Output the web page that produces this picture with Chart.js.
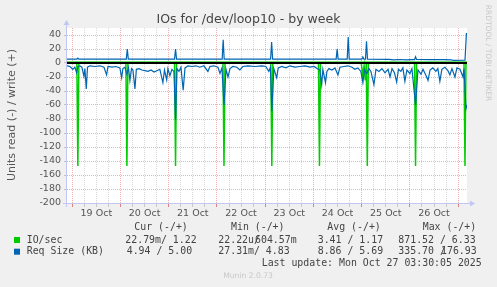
<!DOCTYPE html>
<html>
<head>
<meta charset="utf-8">
<title>IOs for /dev/loop10 - by week</title>
<script src="https://cdn.jsdelivr.net/npm/chart.js@4.4.1/dist/chart.umd.min.js"></script>
<style>
  html, body { margin: 0; padding: 0; background: #f0f0f0; }
  #wrap { width: 497px; height: 287px; }
</style>
</head>
<body>
<div id="wrap"><canvas id="myChart" width="497" height="287"></canvas></div>
<script>
// hours counted from 19 Oct 00:00, one graph pixel = 30 min
const dayLabels = ['19 Oct', '20 Oct', '21 Oct', '22 Oct', '23 Oct', '24 Oct', '25 Oct', '26 Oct'];
const yTicks = [-200, -180, -160, -140, -120, -100, -80, -60, -40, -20, 0, 20, 40];

// IO/sec, read (drawn negative)
const ioReadHours = [-2.6, 2.3, 2.8, 3.3, 26.7, 27.2, 27.7, 50.9, 51.4, 51.9, 75.0, 75.5, 76.0,
  98.8, 99.3, 99.8, 122.5, 123.0, 123.5, 143.8, 144.5, 145.2, 145.8, 146.3, 146.8, 147.3,
  170.3, 170.8, 171.3, 194.9, 195.4, 195.9, 196.4];
const ioReadVals = [0, 0, -147, 0, 0, -147, 0, 0, -147, 0, 0, -147, 0,
  0, -147, 0, 0, -147, 0, 0, -18, -4, -25, 0, -147, 0,
  0, -147, 0, 0, -147, 0, 0];

// IO/sec, write
const ioWriteHours = [-2.6, 60, 120, 196.4];
const ioWriteVals = [1.6, 1.6, 1.5, 1.6];

// Req Size (KB), read (drawn negative)
const sizeReadHours = [-2.6, -1.1, 0.3, 1.3, 2.2, 2.8, 3.8, 4.8, 5.8, 6.3, 7.0, 7.6, 8.8, 11.3, 13.8,
  15.8, 17.1, 17.8, 19.8, 21.7, 23.7, 24.6, 25.2, 26.2, 27.2, 28.0, 28.7, 29.5, 30.2, 31.2, 31.9,
  33.2, 34.7, 36.2, 37.7, 39.2, 40.7, 42.1, 43.6, 45.1, 45.9, 47.0, 47.6, 48.6, 49.6, 50.6, 51.4,
  52.1, 53.1, 54.1, 55.2, 56.1, 57.6, 59.6, 61.5, 63.5, 65.5, 67.5, 68.5, 70.5, 72.5, 73.5, 74.5,
  75.5, 76.5, 77.5, 78.5, 79.9, 81.9, 83.4, 84.9, 87.4, 90.9, 94.4, 96.3, 97.8, 98.6, 99.3, 100.3,
  101.7, 102.5, 104.3, 106.3, 108.3, 110.8, 113.3, 115.8, 118.3, 120.3, 121.8, 123.2, 124.1, 124.7,
  126.0, 126.7, 127.7, 129.2, 130.7, 132.2, 133.2, 135.2, 137.2, 139.2, 140.6, 142.1, 143.6, 144.6,
  145.4, 146.6, 147.6, 148.6, 150.1, 151.1, 152.6, 154.1, 155.6, 157.1, 158.1, 159.1, 160.3, 161.4,
  162.3, 163.5, 164.5, 165.5, 166.5, 168.0, 169.0, 170.8, 172.0, 173.5, 174.5, 176.0, 177.0, 178.0,
  179.4, 180.9, 181.9, 182.9, 183.9, 185.4, 186.9, 187.9, 188.9, 190.4, 191.4, 192.9, 194.4, 194.9,
  195.9, 196.4];
const sizeReadVals = [-4, -5, -9, -6, -14, -5, -4, -6, -19, -8, -37, -6, -4, -5, -4,
  -6, -17, -5, -6, -5, -7, -21, -8, -6, -16, -7, -25, -8, -10, -37, -9,
  -8, -10, -11, -12, -10, -13, -11, -9, -28, -10, -24, -8, -18, -9, -12, -81,
  -8, -12, -6, -39, -7, -4, -5, -4, -6, -4, -12, -5, -4, -6, -15, -7,
  -60, -9, -20, -8, -5, -6, -10, -5, -4, -5, -4, -5, -12, -6, -69, -8,
  -21, -7, -5, -7, -4, -6, -5, -4, -6, -5, -8, -10, -31, -9,
  -28, -12, -8, -10, -7, -17, -6, -5, -4, -6, -9, -7, -12, -28,
  -10, -15, -8, -12, -31, -9, -12, -8, -14, -9, -20, -8, -14, -27,
  -9, -12, -7, -26, -10, -15, -8, -60, -10, -16, -9, -18, -25, -10,
  -7, -12, -8, -26, -9, -6, -11, -17, -8, -20, -7, -9, -20, -8,
  -65, -60];

// Req Size (KB), write
const sizeWriteHours = [-2.6, 2.3, 2.8, 3.3, 26.9, 27.4, 27.9, 50.9, 51.4, 51.9, 74.6, 75.1, 75.6,
  98.7, 99.2, 99.7, 131.3, 131.8, 132.3, 136.8, 137.3, 137.8, 144.1, 144.6, 145.1, 145.9, 146.4,
  146.9, 157.5, 160, 163, 166, 169, 170.3, 170.8, 171.3, 178, 185, 188.5, 189.5, 195.4, 196.1, 196.4];
const sizeWriteVals = [5.5, 5.5, 7, 5.5, 5.5, 20, 5.5, 5.5, 20, 5.5, 5.5, 33, 5.5,
  5.5, 30, 5.5, 5.5, 20, 5.5, 5.5, 37, 5.5, 5.5, 8.6, 5.5, 5.5, 31,
  5.5, 5.3, 4.6, 5.0, 4.4, 4.8, 4.8, 9, 5.0, 4.7, 4.9, 4.6, 3.8, 4.0, 42, 42];

const seriesNames = ['IO/sec', 'Req Size (KB)'];
const statHeads = ['Cur (-/+)', 'Min (-/+)', 'Avg (-/+)', 'Max (-/+)'];
const statIO = ['22.79m/ 1.22', '22.22u/', '604.57m', '3.41 / 1.17', '871.52 / 6.33'];
const statSize = ['4.94 / 5.00', '27.31m/ 4.83', '8.86 / 5.69', '335.70 /', '176.93'];
const lastUpdate = 'Last update: Mon Oct 27 03:30:05 2025';

const green = '#00cc00';
const blue = '#0066b3';
const axisColor = '#c4c6f2';
const majorGrid = '#eeb0b0';
const minorGrid = '#d8d8d8';

function pts(hours, vals) {
  return hours.map((h, i) => ({ x: h, y: vals[i] }));
}

const gridHours = [];
for (let h = 0; h <= 192; h += 6) gridHours.push(h);
const yGrid = yTicks.concat(yTicks.map(v => v + 10).filter(v => v < 50)).sort((a, b) => a - b);

const muninPlugin = {
  id: 'munin',
  beforeDraw(chart) {
    const { ctx, chartArea: a } = chart;
    ctx.save();
    ctx.fillStyle = '#f0f0f0';
    ctx.fillRect(0, 0, chart.width, chart.height);
    ctx.fillStyle = '#ffffff';
    ctx.fillRect(a.left, a.top, a.right - a.left, a.bottom - a.top);
    ctx.restore();
  },
  afterDatasetsDraw(chart) {
    const { ctx, chartArea: a, scales } = chart;
    const y0 = scales.y.getPixelForValue(0);
    ctx.save();
    // zero rule
    ctx.strokeStyle = '#000';
    ctx.lineWidth = 2;
    ctx.beginPath();
    ctx.moveTo(a.left, y0);
    ctx.lineTo(a.right, y0);
    ctx.stroke();
    // axes with arrows
    const ax = a.left - 0.5, ay = a.bottom + 0.5;
    ctx.strokeStyle = axisColor;
    ctx.fillStyle = axisColor;
    ctx.lineWidth = 1;
    ctx.beginPath();
    ctx.moveTo(ax, a.bottom + 4);
    ctx.lineTo(ax, a.top - 4);
    ctx.moveTo(a.left - 4, ay);
    ctx.lineTo(a.right + 4, ay);
    ctx.stroke();
    ctx.beginPath();
    ctx.moveTo(ax - 3, a.top - 3);
    ctx.lineTo(ax + 3, a.top - 3);
    ctx.lineTo(ax, a.top - 8);
    ctx.closePath();
    ctx.fill();
    ctx.beginPath();
    ctx.moveTo(a.right + 3, ay - 3);
    ctx.lineTo(a.right + 3, ay + 3);
    ctx.lineTo(a.right + 8, ay);
    ctx.closePath();
    ctx.fill();
    ctx.restore();
  },
  afterDraw(chart) {
    const { ctx } = chart;
    ctx.save();
    // title
    ctx.fillStyle = '#444';
    ctx.font = '12.5px "DejaVu Sans"';
    ctx.textAlign = 'center';
    ctx.textBaseline = 'middle';
    ctx.fillText('IOs for /dev/loop10 - by week', 248.5, 19.5);
    // y axis title
    ctx.save();
    ctx.translate(12, 115);
    ctx.rotate(-Math.PI / 2);
    ctx.fillStyle = '#555';
    ctx.font = '11px "DejaVu Sans"';
    ctx.fillText('Units read (-) / write (+)', 0, 0);
    ctx.restore();
    // watermark
    ctx.save();
    ctx.translate(488, 53);
    ctx.rotate(Math.PI / 2);
    ctx.fillStyle = '#c8c8c8';
    ctx.font = '7.5px "DejaVu Sans"';
    ctx.fillText('RRDTOOL / TOBI OETIKER', 0, 0);
    ctx.restore();
    ctx.fillStyle = '#c8c8c8';
    ctx.font = '7.6px "DejaVu Sans"';
    ctx.fillText('Munin 2.0.73', 248, 276);
    // legend
    ctx.textAlign = 'left';
    ctx.font = '9.9px "DejaVu Sans Mono"';
    ctx.fillStyle = '#444';
    const headX = [134.3, 231, 327.3, 422.7];
    statHeads.forEach((t, i) => ctx.fillText(t, headX[i], 227.5));
    const rowY = [240, 251.7];
    [green, blue].forEach((c, i) => {
      ctx.fillStyle = c;
      ctx.fillRect(14, rowY[i] - 3, 6, 6);
      ctx.fillStyle = '#444';
      ctx.fillText(seriesNames[i], 26.7, rowY[i]);
    });
    const ioX = [125.3, 218.3, 255, 317.7, 398.3];
    statIO.forEach((t, i) => ctx.fillText(t, ioX[i], rowY[0]));
    const sizeX = [126.7, 218.3, 317.7, 398.3, 441];
    statSize.forEach((t, i) => ctx.fillText(t, sizeX[i], rowY[1]));
    ctx.fillText(lastUpdate, 261.7, 263.5);
    ctx.restore();
  }
};

Chart.defaults.font.family = 'DejaVu Sans';

new Chart(document.getElementById('myChart'), {
  type: 'line',
  data: {
    datasets: [
      { label: 'IO/sec read', data: pts(ioReadHours, ioReadVals), borderColor: green, borderWidth: 1.5, order: 1 },
      { label: 'IO/sec write', data: pts(ioWriteHours, ioWriteVals), borderColor: green, borderWidth: 1, order: 1 },
      { label: 'Req Size read', data: pts(sizeReadHours, sizeReadVals), borderColor: blue, borderWidth: 1.2, order: 0 },
      { label: 'Req Size write', data: pts(sizeWriteHours, sizeWriteVals), borderColor: blue, borderWidth: 1.2, order: 0 }
    ]
  },
  options: {
    responsive: false,
    animation: false,
    layout: { padding: { top: 28, right: 30, left: 0, bottom: 0 } },
    elements: { point: { radius: 0 }, line: { tension: 0, fill: false } },
    plugins: { legend: { display: false }, title: { display: false }, tooltip: { enabled: false } },
    scales: {
      x: {
        type: 'linear',
        min: -2.6,
        max: 196.4,
        afterBuildTicks: s => { s.ticks = gridHours.map(v => ({ value: v })); },
        afterFit: s => { s.height = 84; },
        border: { display: false, dash: [1, 1] },
        grid: {
          color: c => (c.tick && c.tick.value % 24 === 0) ? majorGrid : minorGrid,
          tickColor: c => (c.tick && c.tick.value % 24 === 0) ? '#e08080' : '#c8c8c8',
          tickLength: 4
        },
        ticks: {
          autoSkip: false,
          maxRotation: 0,
          padding: 1,
          color: '#555',
          font: { size: 9.5 },
          callback: v => {
            const i = (v - 12) / 24;
            return Number.isInteger(i) && dayLabels[i] ? dayLabels[i] : '';
          }
        }
      },
      y: {
        min: -200,
        max: 50,
        afterBuildTicks: s => { s.ticks = yGrid.map(v => ({ value: v })); },
        afterFit: s => { s.width = 67; },
        border: { display: false, dash: [1, 1] },
        grid: {
          color: c => (c.tick && c.tick.value % 20 === 0) ? majorGrid : minorGrid,
          tickColor: '#c0c0c0',
          tickLength: 3
        },
        ticks: {
          padding: 3,
          color: '#555',
          font: { size: 9.5 },
          callback: v => (v % 20 === 0 ? String(v) : '')
        }
      }
    }
  },
  plugins: [muninPlugin]
});
</script>
</body>
</html>
